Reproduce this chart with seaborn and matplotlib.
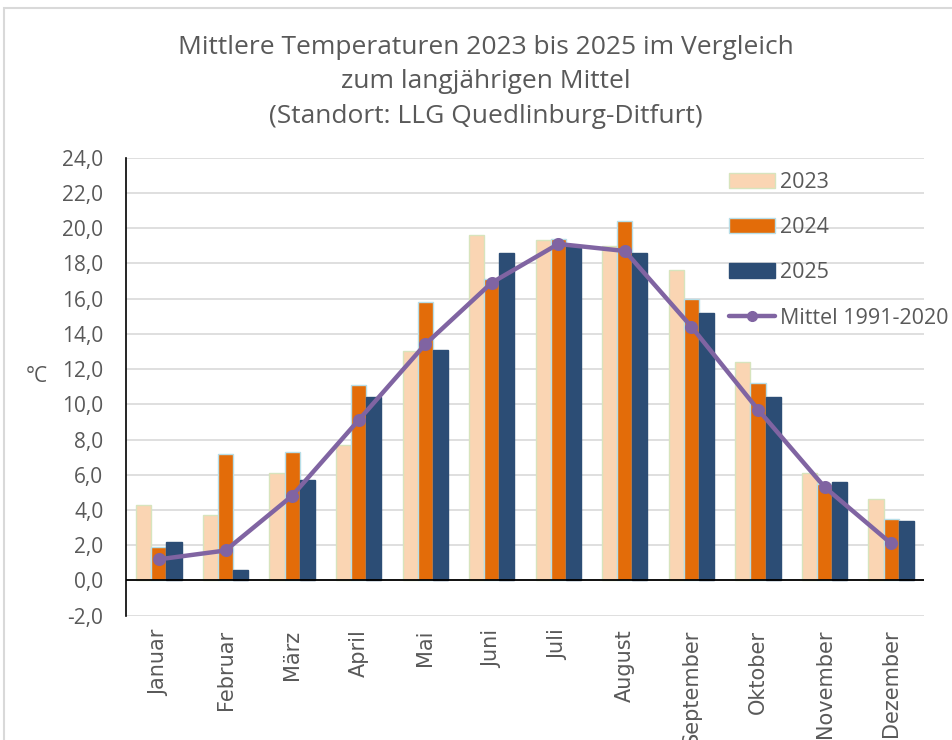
import numpy as np
import pandas as pd
import matplotlib
matplotlib.use("Agg")
import matplotlib.pyplot as plt
from matplotlib.patches import Rectangle
from matplotlib.lines import Line2D
from matplotlib.ticker import FuncFormatter
import seaborn as sns

MONTHS = ["Januar", "Februar", "März", "April", "Mai", "Juni", "Juli",
          "August", "September", "Oktober", "November", "Dezember"]
T_2023 = [4.3, 3.7, 6.1, 7.7, 13.0, 19.6, 19.3, 19.0, 17.6, 12.4, 6.1, 4.6]
T_2024 = [1.9, 7.2, 7.3, 11.1, 15.8, 17.1, 19.4, 20.4, 16.0, 11.2, 5.5, 3.5]
T_2025 = [2.2, 0.6, 5.7, 10.4, 13.1, 18.6, 19.0, 18.6, 15.2, 10.4, 5.6, 3.4]
MEAN   = [1.2, 1.7, 4.8, 9.1, 13.4, 16.9, 19.1, 18.7, 14.4, 9.7, 5.3, 2.1]
YEARS  = ["2023", "2024", "2025"]
MEAN_LABEL = "Mittel 1991-2020"

FILL  = {"2023": "#FAD5B3", "2024": "#E36C09", "2025": "#2C4D75"}
EDGE  = {"2023": "#D7E4BD", "2024": "#B7DEE8", "2025": "#2C4D75"}
LINE  = "#8064A2"
TXT   = "#595959"

df = pd.DataFrame({
    "Monat": MONTHS * 3,
    "Jahr":  [y for y in YEARS for _ in MONTHS],
    "Temp":  T_2023 + T_2024 + T_2025,
})
mean_df = pd.DataFrame({"Monat": MONTHS, "Temp": MEAN})

sns.set_style("white")
plt.rcParams["font.family"] = ["Open Sans", "DejaVu Sans"]

fig = plt.figure(figsize=(9.52, 7.4), dpi=100)
ax = fig.add_axes([0.132, 0.168, 0.839, 0.619])

sns.barplot(data=df, x="Monat", y="Temp", hue="Jahr", order=MONTHS,
            hue_order=YEARS, palette=FILL, saturation=1, width=0.68, gap=0,
            linewidth=1, legend=False, ax=ax, zorder=3)
for bars, yr in zip(ax.containers, YEARS):
    for b in bars:
        b.set_edgecolor(EDGE[yr])

sns.pointplot(data=mean_df, x="Monat", y="Temp", order=MONTHS,
              color=LINE, markers="o", linestyles="-", ax=ax,
              markersize=7, linewidth=3.2, zorder=5)

ax.set_ylim(-2, 24)
ax.set_xlim(-0.5, 11.5)
ax.set_yticks(np.arange(-2, 24.1, 2))
ax.yaxis.set_major_formatter(FuncFormatter(lambda v, p: f"{v:.1f}".replace(".", ",")))
ax.grid(axis="y", color="#D9D9D9", linewidth=1.2, zorder=0)
ax.set_axisbelow(True)
ax.axhline(0, color="black", linewidth=1.3, zorder=4)
for s in ["top", "right", "bottom"]:
    ax.spines[s].set_visible(False)
ax.spines["left"].set_color("black")
ax.spines["left"].set_linewidth(1.2)

ax.tick_params(axis="y", labelsize=15, colors=TXT, length=0, pad=16)
ax.tick_params(axis="x", labelsize=15, colors=TXT, length=0, pad=10,
               labelrotation=90)
for lab in ax.get_xticklabels():
    lab.set_family("DejaVu Sans")
ax.set_xlabel("")
ax.set_ylabel("°C", rotation=0, fontsize=15, color=TXT, labelpad=18)

handles = [Rectangle((0, 0), 1, 1, facecolor=FILL[y], edgecolor=EDGE[y]) for y in YEARS]
handles.append(Line2D([0], [0], color=LINE, linewidth=3.2, marker="o", markersize=7))
ax.legend(handles, YEARS + [MEAN_LABEL], loc="upper left",
          bbox_to_anchor=(0.745, 0.988), frameon=False, fontsize=15.5,
          labelcolor=TXT, labelspacing=1.13, handlelength=2.1, handleheight=0.7,
          handletextpad=0.25, borderaxespad=0)

fig.suptitle("Mittlere Temperaturen 2023 bis 2025 im Vergleich\n"
             "zum langjährigen Mittel\n(Standort: LLG Quedlinburg-Ditfurt)",
             x=0.51, y=0.953, fontsize=19, color=TXT, linespacing=1.5)

fig.patches.append(Rectangle((0.004, -0.01), 1.1, 0.999, transform=fig.transFigure,
                             fill=False, edgecolor="#D9D9D9", linewidth=1.5))

fig.savefig("out.png", dpi=100)
